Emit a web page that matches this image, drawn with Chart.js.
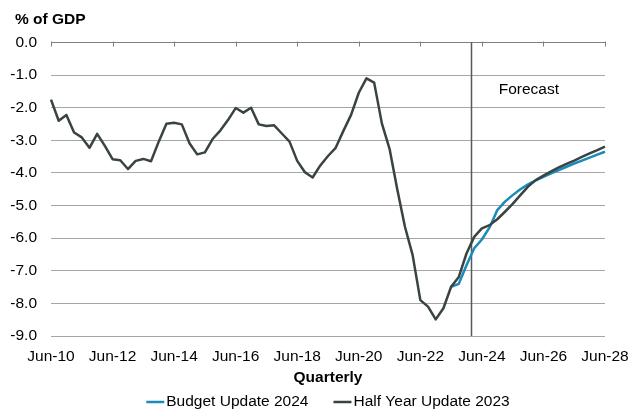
<!DOCTYPE html>
<html>
<head>
<meta charset="utf-8">
<script src="https://cdn.jsdelivr.net/npm/chart.js@4.4.1/dist/chart.umd.min.js"></script>
<style>
  html, body { margin: 0; padding: 0; background: #fff; }
  #wrap { width: 633px; height: 412px; }
</style>
</head>
<body>
<div id="wrap"><canvas id="deficitChart" width="633" height="412"></canvas></div>
<script>
// quarterly categories, Jun-10 .. Jun-28
var quarters = [
  'Jun-10', 'Sep-10', 'Dec-10',
  'Mar-11', 'Jun-11', 'Sep-11', 'Dec-11',
  'Mar-12', 'Jun-12', 'Sep-12', 'Dec-12',
  'Mar-13', 'Jun-13', 'Sep-13', 'Dec-13',
  'Mar-14', 'Jun-14', 'Sep-14', 'Dec-14',
  'Mar-15', 'Jun-15', 'Sep-15', 'Dec-15',
  'Mar-16', 'Jun-16', 'Sep-16', 'Dec-16',
  'Mar-17', 'Jun-17', 'Sep-17', 'Dec-17',
  'Mar-18', 'Jun-18', 'Sep-18', 'Dec-18',
  'Mar-19', 'Jun-19', 'Sep-19', 'Dec-19',
  'Mar-20', 'Jun-20', 'Sep-20', 'Dec-20',
  'Mar-21', 'Jun-21', 'Sep-21', 'Dec-21',
  'Mar-22', 'Jun-22', 'Sep-22', 'Dec-22',
  'Mar-23', 'Jun-23', 'Sep-23', 'Dec-23',
  'Mar-24', 'Jun-24', 'Sep-24', 'Dec-24',
  'Mar-25', 'Jun-25', 'Sep-25', 'Dec-25',
  'Mar-26', 'Jun-26', 'Sep-26', 'Dec-26',
  'Mar-27', 'Jun-27', 'Sep-27', 'Dec-27',
  'Mar-28', 'Jun-28'
];

var tickLabels = ['Jun-10', 'Jun-12', 'Jun-14', 'Jun-16', 'Jun-18', 'Jun-20', 'Jun-22', 'Jun-24', 'Jun-26', 'Jun-28'];

// Half Year Update 2023, whole period
var halfYear2023 = [
  -1.75, -2.40, -2.22,
  -2.76, -2.91, -3.23, -2.80,
  -3.17, -3.58, -3.61, -3.88,
  -3.63, -3.57, -3.64, -3.04,
  -2.49, -2.46, -2.51, -3.09,
  -3.43, -3.37, -2.96, -2.70,
  -2.38, -2.01, -2.15, -2.00,
  -2.51, -2.56, -2.54, -2.79,
  -3.04, -3.63, -3.98, -4.14,
  -3.77, -3.48, -3.23, -2.71,
  -2.22, -1.54, -1.10, -1.23,
  -2.48, -3.26, -4.50, -5.65,
  -6.52, -7.90, -8.10, -8.49,
  -8.15, -7.49, -7.19, -6.47,
  -5.96, -5.70, -5.60, -5.42,
  -5.19, -4.95, -4.68, -4.42,
  -4.22, -4.08, -3.95, -3.83,
  -3.72, -3.62, -3.51, -3.40,
  -3.30, -3.19
];

// Budget Update 2024, from Jun-23 on
var budgetStart = 'Jun-23';
var budget2024 = [
  -7.49, -7.40, -6.83,
  -6.31, -6.04, -5.67, -5.14,
  -4.88, -4.68, -4.50, -4.35,
  -4.23, -4.12, -4.01, -3.91,
  -3.81, -3.71, -3.62, -3.53,
  -3.44, -3.35
];

var forecastFrom = 54.6;   // category position of the forecast divider
var forecastLabel = { x: 62.1, y: -1.46, text: 'Forecast' };
var unitLabel = '% of GDP';

var blue = '#1a8ab8';
var dark = '#3a4343';
var fontFamily = '"Liberation Sans", Arial, sans-serif';

Chart.defaults.font.family = fontFamily;
Chart.defaults.color = '#000';

var startIdx = quarters.indexOf(budgetStart);
var budgetData = quarters.map(function(q, i) {
    return i < startIdx ? null : budget2024[i - startIdx];
});

// zero line ticks, forecast divider, labels and legend
var chartExtras = {
    id: 'chartExtras',
    beforeDatasetsDraw: function(chart) {
        var ctx = chart.ctx;
        var xs = chart.scales.x, ys = chart.scales.y;
        var area = chart.chartArea;
        var y0 = ys.getPixelForValue(0);
        ctx.save();
        ctx.strokeStyle = '#7f7f7f';
        ctx.lineWidth = 1;
        tickLabels.forEach(function(lbl) {
            var x = Math.round(xs.getPixelForValue(quarters.indexOf(lbl))) + 0.5;
            ctx.beginPath();
            ctx.moveTo(x, y0 - 1);
            ctx.lineTo(x, y0 + 4);
            ctx.stroke();
        });
        var fx = Math.round(xs.getPixelForValue(forecastFrom)) + 0.5;
        ctx.strokeStyle = '#595959';
        ctx.lineWidth = 1.5;
        ctx.beginPath();
        ctx.moveTo(fx, area.top);
        ctx.lineTo(fx, area.bottom);
        ctx.stroke();
        ctx.restore();
    },
    afterDatasetsDraw: function(chart) {
        var ctx = chart.ctx;
        ctx.save();
        ctx.font = '15.5px ' + fontFamily;
        ctx.fillStyle = '#000';
        ctx.textAlign = 'center';
        ctx.textBaseline = 'middle';
        ctx.fillText(forecastLabel.text,
            chart.scales.x.getPixelForValue(forecastLabel.x),
            chart.scales.y.getPixelForValue(forecastLabel.y));
        ctx.restore();
    },
    afterDraw: function(chart) {
        var ctx = chart.ctx;
        var area = chart.chartArea;
        ctx.save();
        // unit label above the value axis
        ctx.font = 'bold 15.5px ' + fontFamily;
        ctx.fillStyle = '#000';
        ctx.textAlign = 'left';
        ctx.textBaseline = 'middle';
        ctx.fillText(unitLabel, 15, 20);

        // legend row under the axis title
        var markW = 18, gapText = 2, gapItem = 25;
        ctx.font = '15.5px ' + fontFamily;
        var items = chart.data.datasets.map(function(ds) {
            return { text: ds.label, color: ds.borderColor, w: markW + gapText + ctx.measureText(ds.label).width };
        });
        var total = items.reduce(function(s, it) { return s + it.w; }, 0) + gapItem * (items.length - 1);
        var x = (area.left + area.right) / 2 - total / 2;
        var y = 402;
        items.forEach(function(it) {
            ctx.strokeStyle = it.color;
            ctx.lineWidth = 2.5;
            ctx.beginPath();
            ctx.moveTo(x, y);
            ctx.lineTo(x + markW, y);
            ctx.stroke();
            ctx.fillStyle = '#000';
            ctx.fillText(it.text, x + markW + gapText, y);
            x += it.w + gapItem;
        });
        ctx.restore();
    }
};

new Chart(document.getElementById('deficitChart').getContext('2d'), {
    type: 'line',
    data: {
        labels: quarters,
        datasets: [{
            label: 'Budget Update 2024',
            data: budgetData,
            borderColor: blue,
            borderWidth: 2.5,
            order: 1
        }, {
            label: 'Half Year Update 2023',
            data: halfYear2023,
            borderColor: dark,
            borderWidth: 2.5,
            order: 0
        }]
    },
    options: {
        responsive: false,
        animation: false,
        devicePixelRatio: 1,
        layout: { padding: { left: 8, right: 28, top: 42.5, bottom: 25 } },
        elements: {
            point: { radius: 0, hoverRadius: 0 },
            line: { tension: 0, borderJoinStyle: 'round' }
        },
        plugins: {
            legend: { display: false },
            tooltip: { enabled: false },
            title: { display: false }
        },
        scales: {
            x: {
                type: 'category',
                offset: false,
                grid: { display: false },
                border: { display: false },
                ticks: {
                    autoSkip: false,
                    maxRotation: 0,
                    minRotation: 0,
                    padding: 3,
                    font: { size: 15.5 },
                    callback: function(value) {
                        var q = quarters[value];
                        return tickLabels.indexOf(q) >= 0 ? q : '';
                    }
                },
                title: {
                    display: true,
                    text: 'Quarterly',
                    font: { size: 15.5, weight: 'bold' },
                    padding: { top: 4, bottom: 0 }
                },
                afterFit: function(scale) {
                    scale.height = 51;
                    scale.paddingLeft = 0;
                    scale.paddingRight = 0;
                }
            },
            y: {
                min: -9,
                max: 0,
                border: { display: false },
                grid: {
                    drawTicks: false,
                    lineWidth: 1,
                    color: function(c) { return c.tick && c.tick.value === 0 ? '#7f7f7f' : '#a6a6a6'; }
                },
                ticks: {
                    stepSize: 1,
                    padding: 14,
                    font: { size: 15.5 },
                    callback: function(v) { return v.toFixed(1); }
                },
                afterFit: function(scale) { scale.width = 43; }
            }
        }
    },
    plugins: [chartExtras]
});
</script>
</body>
</html>
